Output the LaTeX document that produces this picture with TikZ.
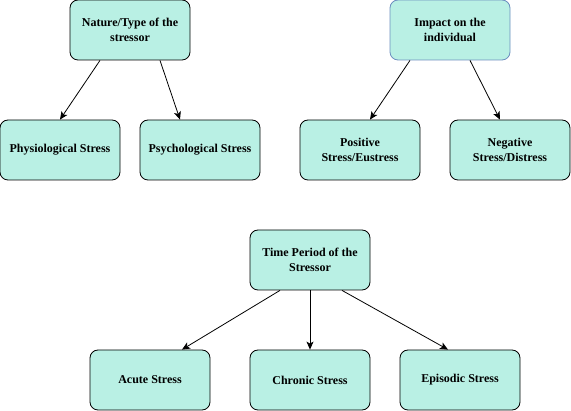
\documentclass[tikz,border=0pt]{standalone}
\usepackage{fontspec}
\setmainfont{Liberation Serif}
\usepackage{tikz}
\usetikzlibrary{arrows.meta}

\definecolor{mint}{RGB}{185,240,228}
\definecolor{edgeblue}{RGB}{108,142,191}
\tikzset{
  stressbox/.style={draw=black, fill=mint, rounded corners=8pt, line width=0.8pt,
    minimum width=120pt, minimum height=60pt, align=center, inner sep=2pt,
    font=\fontsize{12}{15}\selectfont\bfseries},
  arr/.style={-{Stealth[length=8pt,width=7pt,inset=2pt]}, line width=0.8pt}
}

\begin{document}
\begin{tikzpicture}[x=1pt, y=-1pt]
\useasboundingbox (0,0) rectangle (571,411);
% types of stress, by nature
\node[stressbox] (nat) at (130,30) {Nature/Type of the\\stressor};
\node[stressbox] (phy) at (60,150) {Physiological Stress};
\node[stressbox] (psy) at (200,150) {Psychological Stress};
% by impact
\node[stressbox, draw=edgeblue] (imp) at (450,30) {Impact on the\\individual};
\node[stressbox] (pos) at (360,150) {Positive\\Stress/Eustress};
\node[stressbox] (neg) at (510,150) {Negative\\Stress/Distress};
% by time period
\node[stressbox] (tim) at (310,260) {Time Period of the\\Stressor};
\node[stressbox] (acu) at (150,380) {Acute Stress};
\node[stressbox] (chr) at (310,380) {Chronic Stress};
\node[stressbox] (epi) at (460,380) {Episodic Stress};

\draw[arr] ([xshift=-30pt]nat.south) -- (phy.north);
\draw[arr] ([xshift=30pt]nat.south) -- ([xshift=-20pt]psy.north);
\draw[arr] ([xshift=-40pt]imp.south) -- ([xshift=10pt]pos.north);
\draw[arr] ([xshift=20pt]imp.south) -- ([xshift=-10pt]neg.north);
\draw[arr] ([xshift=-30pt]tim.south) -- ([xshift=32pt]acu.north);
\draw[arr] (tim.south) -- (chr.north);
\draw[arr] ([xshift=32pt]tim.south) -- ([xshift=-12pt]epi.north);
\end{tikzpicture}
\end{document}
